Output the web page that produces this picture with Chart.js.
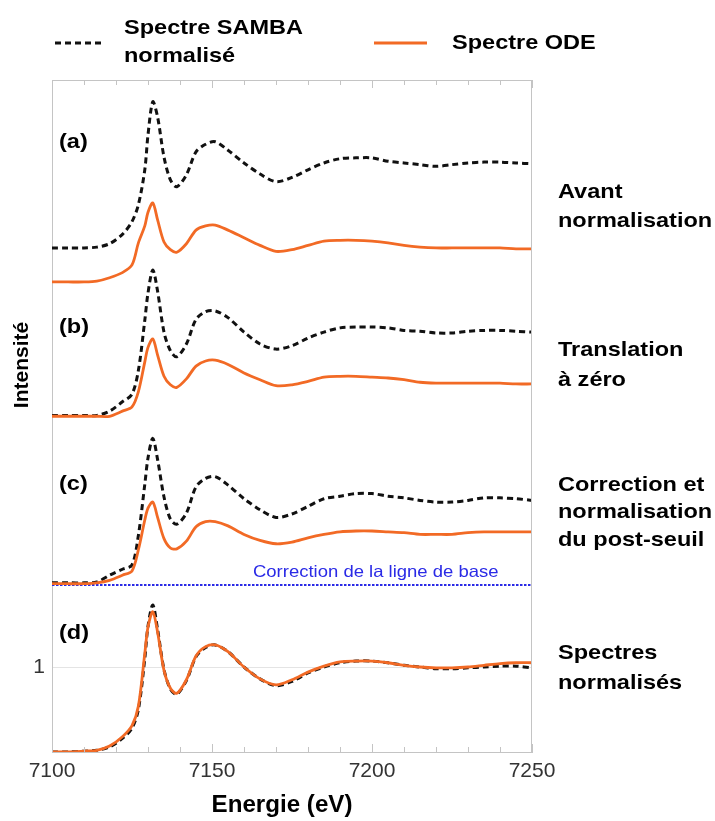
<!DOCTYPE html>
<html>
<head>
<meta charset="utf-8">
<script src="https://cdn.jsdelivr.net/npm/chart.js@4.4.1/dist/chart.umd.min.js"></script>
<style>
  html, body { margin: 0; padding: 0; background: #ffffff; }
  canvas { display: block; }
</style>
</head>
<body>
<canvas id="c" width="715" height="821"></canvas>
<script>
// ---------- DATA ----------
const energy = [7100,7105,7110,7114,7118,7122,7125,7127,7129,7130,7131.5,7133,7135,7137,7139,7142,7145,7148,7151,7155,7160,7165,7170,7175,7180,7185,7190,7195,7200,7205,7210,7215,7220,7225,7230,7235,7240,7245,7250];

// (a) Avant normalisation
const sambaA = [5.93,5.93,5.93,5.94,5.98,6.09,6.24,6.44,6.85,7.26,7.65,7.47,7.00,6.73,6.65,6.79,7.06,7.15,7.18,7.08,6.93,6.80,6.71,6.76,6.85,6.93,6.98,6.99,6.99,6.95,6.93,6.91,6.89,6.91,6.93,6.94,6.94,6.93,6.92];
const odeA   = [5.53,5.53,5.53,5.54,5.58,5.64,5.73,5.99,6.19,6.35,6.46,6.26,6.00,5.91,5.88,5.98,6.14,6.19,6.20,6.14,6.05,5.96,5.89,5.91,5.96,6.01,6.02,6.02,6.01,5.99,5.96,5.94,5.93,5.93,5.93,5.93,5.93,5.92,5.92];
// (b) Translation à zéro
const sambaB = [3.96,3.96,3.96,3.96,4.01,4.12,4.21,4.49,5.08,5.40,5.67,5.42,4.94,4.72,4.65,4.80,5.09,5.18,5.19,5.11,4.94,4.80,4.74,4.78,4.87,4.94,4.99,5.00,5.00,4.99,4.96,4.95,4.93,4.93,4.95,4.96,4.96,4.95,4.94];
const odeB   = [3.95,3.95,3.95,3.95,3.95,4.01,4.06,4.24,4.59,4.76,4.86,4.67,4.42,4.32,4.29,4.39,4.54,4.60,4.61,4.56,4.46,4.38,4.31,4.32,4.36,4.41,4.42,4.42,4.41,4.40,4.38,4.35,4.34,4.34,4.34,4.34,4.34,4.33,4.33];
// (c) Correction et normalisation du post-seuil
const sambaC = [1.99,1.99,1.99,2.00,2.08,2.15,2.20,2.55,3.15,3.46,3.69,3.44,3.00,2.74,2.68,2.81,3.12,3.22,3.24,3.14,2.98,2.85,2.76,2.80,2.89,2.98,3.01,3.04,3.04,3.01,2.99,2.96,2.94,2.94,2.96,2.99,2.99,2.98,2.96];
const odeC   = [1.98,1.98,1.98,1.99,2.02,2.08,2.13,2.38,2.73,2.87,2.94,2.76,2.51,2.40,2.39,2.48,2.65,2.71,2.71,2.66,2.56,2.49,2.45,2.47,2.52,2.56,2.59,2.60,2.60,2.59,2.58,2.56,2.56,2.56,2.58,2.59,2.59,2.59,2.59];
// (d) Spectres normalisés
const sambaD = [0.00,0.00,0.01,0.02,0.06,0.16,0.28,0.50,1.10,1.48,1.73,1.44,0.97,0.74,0.68,0.84,1.12,1.23,1.26,1.18,1.00,0.86,0.78,0.83,0.93,1.00,1.05,1.07,1.07,1.05,1.02,1.00,0.98,0.98,0.99,1.00,1.01,1.01,0.99];
const odeD   = [0.00,0.00,0.01,0.02,0.07,0.18,0.31,0.54,1.16,1.47,1.65,1.41,0.96,0.75,0.69,0.85,1.13,1.24,1.26,1.18,1.00,0.86,0.79,0.85,0.94,1.01,1.06,1.07,1.07,1.05,1.02,1.00,0.99,0.99,1.00,1.02,1.04,1.05,1.05];

// Baseline correction line
const baselineEnergy = [7100, 7250];
const baselineValues = [1.965, 1.965];

// Axis ticks
const xTickLabels = [7100, 7150, 7200, 7250];
const xMinorTicks = [7110,7120,7130,7140,7160,7170,7180,7190,7210,7220,7230,7240];
const yTickValues = [1];

// Texts
const panelLabels = ['(a)', '(b)', '(c)', '(d)'];
const sideLabels = [
  ['Avant', 'normalisation'],
  ['Translation', 'à zéro'],
  ['Correction et', 'normalisation', 'du post-seuil'],
  ['Spectres', 'normalisés']
];
const legendSamba = ['Spectre SAMBA', 'normalisé'];
const legendOde = 'Spectre ODE';
const baselineText = 'Correction de la ligne de base';
const xTitle = 'Energie (eV)';
const yTitle = 'Intensité';

// ---------- STYLE ----------
const FONT = '"Liberation Sans", Arial, Helvetica, sans-serif';
const ORANGE = '#f26a25';
const DASHED = '#111111';
const BORDER = '#c4c4c4';
const BLUE = '#2a2ae6';

const pts = ys => energy.map((x, i) => ({ x: x, y: ys[i] }));
const sambaStyle = { borderColor: DASHED, borderWidth: 3, borderDash: [6, 4], order: 1 };
const odeStyle = { borderColor: ORANGE, borderWidth: 2.8, order: 0 };

const datasets = [
  Object.assign({ label: 'Spectre SAMBA normalisé (a)', data: pts(sambaA) }, sambaStyle),
  Object.assign({ label: 'Spectre ODE (a)', data: pts(odeA) }, odeStyle),
  Object.assign({ label: 'Spectre SAMBA normalisé (b)', data: pts(sambaB) }, sambaStyle),
  Object.assign({ label: 'Spectre ODE (b)', data: pts(odeB) }, odeStyle),
  Object.assign({ label: 'Spectre SAMBA normalisé (c)', data: pts(sambaC) }, sambaStyle),
  Object.assign({ label: 'Spectre ODE (c)', data: pts(odeC) }, odeStyle),
  Object.assign({ label: 'Spectre SAMBA normalisé (d)', data: pts(sambaD) }, sambaStyle),
  Object.assign({ label: 'Spectre ODE (d)', data: pts(odeD) }, odeStyle),
  {
    label: baselineText,
    data: baselineEnergy.map((x, i) => ({ x: x, y: baselineValues[i] })),
    borderColor: BLUE, borderWidth: 2, borderDash: [2.5, 1.5], order: 2, tension: 0
  }
];

function drawText(ctx, s, x, y, size, weight, color, align, sx) {
  ctx.save();
  ctx.translate(x, y);
  ctx.scale(sx || 1, 1);
  ctx.font = weight + ' ' + size + 'px ' + FONT;
  ctx.fillStyle = color;
  ctx.textAlign = align || 'left';
  ctx.textBaseline = 'middle';
  ctx.fillText(s, 0, 0);
  ctx.restore();
}

const decor = {
  id: 'decor',
  afterDraw(chart) {
    const ctx = chart.ctx;
    const a = chart.chartArea;
    const xs = chart.scales.x;
    // top + right border
    ctx.save();
    ctx.strokeStyle = BORDER;
    ctx.lineWidth = 1;
    ctx.beginPath();
    ctx.moveTo(a.left, a.top + 0.5); ctx.lineTo(a.right, a.top + 0.5);
    ctx.moveTo(a.right - 0.5, a.top); ctx.lineTo(a.right - 0.5, a.bottom);
    ctx.stroke();
    // inward ticks top & bottom
    ctx.beginPath();
    const tick = (v, len) => {
      const px = Math.round(xs.getPixelForValue(v)) + 0.5;
      ctx.moveTo(px, a.bottom); ctx.lineTo(px, a.bottom - len);
      ctx.moveTo(px, a.top); ctx.lineTo(px, a.top + len);
    };
    xTickLabels.forEach(v => tick(v, 8));
    xMinorTicks.forEach(v => tick(v, 5));
    ctx.stroke();
    ctx.restore();

    // legend
    ctx.save();
    ctx.lineWidth = 3;
    ctx.strokeStyle = DASHED;
    ctx.setLineDash([6, 4]);
    ctx.beginPath(); ctx.moveTo(55, 43); ctx.lineTo(103, 43); ctx.stroke();
    ctx.setLineDash([]);
    ctx.strokeStyle = ORANGE;
    ctx.beginPath(); ctx.moveTo(374, 43); ctx.lineTo(427, 43); ctx.stroke();
    ctx.restore();
    drawText(ctx, legendSamba[0], 124, 28, 21, 'bold', '#000', 'left', 1.12);
    drawText(ctx, legendSamba[1], 124, 56, 21, 'bold', '#000', 'left', 1.12);
    drawText(ctx, legendOde, 452, 43, 21, 'bold', '#000', 'left', 1.12);

    // panel labels
    const panelY = [142, 327, 484, 633];
    panelLabels.forEach((t, i) => drawText(ctx, t, 59, panelY[i], 21, 'bold', '#000', 'left', 1.12));

    // side labels
    const sideY = [[192, 221], [350, 380], [485, 512, 540], [653, 683]];
    sideLabels.forEach((lines, i) => lines.forEach((t, j) =>
      drawText(ctx, t, 558, sideY[i][j], 21, 'bold', '#000', 'left', 1.12)));

    // baseline text
    drawText(ctx, baselineText, 253, 572, 16.5, 'normal', BLUE, 'left', 1.12);

    // axis titles
    drawText(ctx, xTitle, 282, 806, 23, 'bold', '#000', 'center', 1.05);
    ctx.save();
    ctx.translate(22, 365);
    ctx.rotate(-Math.PI / 2);
    ctx.font = 'bold 21px ' + FONT;
    ctx.fillStyle = '#000';
    ctx.textAlign = 'center';
    ctx.textBaseline = 'middle';
    ctx.fillText(yTitle, 0, 0);
    ctx.restore();
  }
};

new Chart(document.getElementById('c'), {
  type: 'line',
  data: { datasets: datasets },
  options: {
    responsive: false,
    devicePixelRatio: 1,
    animation: false,
    layout: { padding: { left: 0, right: 183, top: 80, bottom: 0 } },
    elements: {
      point: { radius: 0, hoverRadius: 0 },
      line: { tension: 0.3, fill: false }
    },
    plugins: { legend: { display: false }, tooltip: { enabled: false }, title: { display: false } },
    scales: {
      x: {
        type: 'linear',
        position: 'bottom',
        min: 7100, max: 7250,
        afterFit: s => { s.height = 69; },
        afterBuildTicks: s => { s.ticks = xTickLabels.map(v => ({ value: v })); },
        ticks: { font: { family: FONT, size: 21 }, color: '#333', padding: 7, maxRotation: 0, autoSkip: false,
                 callback: v => String(v) },
        grid: { display: false, drawTicks: false },
        border: { display: true, color: BORDER, width: 1 }
      },
      y: {
        type: 'linear',
        min: 0, max: 7.906,
        afterFit: s => { s.width = 52; },
        afterBuildTicks: s => { s.ticks = yTickValues.map(v => ({ value: v })); },
        ticks: { font: { family: FONT, size: 21 }, color: '#333', padding: 7, callback: v => String(v) },
        grid: { color: '#e4e4e4', lineWidth: 1, drawTicks: false },
        border: { display: true, color: BORDER, width: 1 }
      }
    }
  },
  plugins: [decor]
});
</script>
</body>
</html>
